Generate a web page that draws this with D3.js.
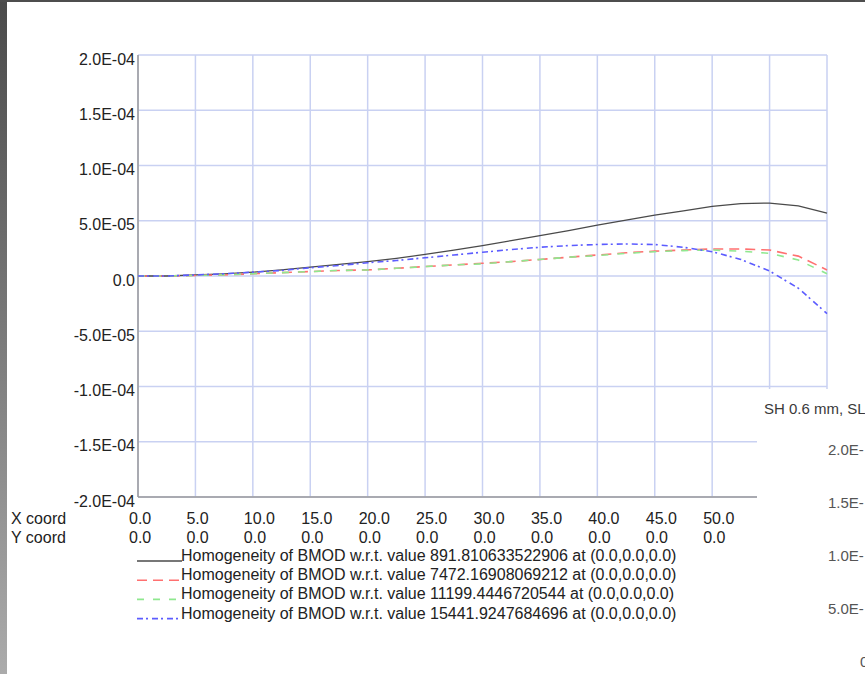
<!DOCTYPE html>
<html>
<head>
<meta charset="utf-8">
<script src="https://cdn.jsdelivr.net/npm/d3@7"></script>
<style>
  html, body { margin: 0; padding: 0; background: #fff; overflow: hidden; }
  text { font-family: "Liberation Sans", Arial, sans-serif; }
</style>
</head>
<body>
<div id="chart"></div>
<script>
// sample positions along the path (X coord), Y coord is always 0
const xCoords = [0, 2.5, 5, 7.5, 10, 12.5, 15, 17.5, 20, 22.5, 25, 27.5, 30,
  32.5, 35, 37.5, 40, 42.5, 45, 47.5, 50, 52.5, 55, 57.5, 60];

// values in units of 1e-5
const series891 = [0, 0, 0.1, 0.2, 0.35, 0.55, 0.8, 1.05, 1.3, 1.6, 1.95, 2.35, 2.75,
  3.2, 3.65, 4.1, 4.6, 5.05, 5.5, 5.9, 6.3, 6.55, 6.6, 6.35, 5.7];
const series7472 = [0, 0, 0.05, 0.1, 0.2, 0.3, 0.4, 0.5, 0.55, 0.7, 0.85, 1.0, 1.15,
  1.3, 1.5, 1.7, 1.9, 2.1, 2.25, 2.35, 2.45, 2.45, 2.35, 1.8, 0.55];
const series11199 = [0, 0, 0.05, 0.1, 0.2, 0.3, 0.4, 0.5, 0.55, 0.7, 0.85, 1.0, 1.1,
  1.3, 1.5, 1.7, 1.85, 2.05, 2.2, 2.3, 2.35, 2.25, 2.05, 1.45, 0.2];
const series15441 = [0, 0, 0.1, 0.2, 0.35, 0.5, 0.75, 0.95, 1.2, 1.4, 1.65, 1.9, 2.15,
  2.4, 2.6, 2.75, 2.85, 2.9, 2.85, 2.6, 2.2, 1.5, 0.45, -1.1, -3.4];

const seriesLabels = [
  'Homogeneity of BMOD w.r.t. value 891.810633522906 at (0.0,0.0,0.0)',
  'Homogeneity of BMOD w.r.t. value 7472.16908069212 at (0.0,0.0,0.0)',
  'Homogeneity of BMOD w.r.t. value 11199.4446720544 at (0.0,0.0,0.0)',
  'Homogeneity of BMOD w.r.t. value 15441.9247684696 at (0.0,0.0,0.0)',
];

const yTicks = [-2e-4, -1.5e-4, -1e-4, -5e-5, 0, 5e-5, 1e-4, 1.5e-4, 2e-4];
const xTickValues = [0, 5, 10, 15, 20, 25, 30, 35, 40, 45, 50];
const xGridValues = [0, 5, 10, 15, 20, 25, 30, 35, 40, 45, 50, 55, 60];

// the window behind, partly shown on the right
const sideTitle = 'SH 0.6 mm, SL';
const sideTicks = ['2.0E-', '1.5E-', '1.0E-', '5.0E-', '0'];

const width = 865;
const height = 674;
const plot = { left: 138, right: 827, top: 55, bottom: 497 };

const svg = d3.select('#chart').append('svg')
  .attr('width', width)
  .attr('height', height);

const x = d3.scaleLinear().domain([0, 60]).range([plot.left, plot.right]);
const y = d3.scaleLinear().domain([-2e-4, 2e-4]).range([plot.bottom, plot.top]);

function sciFormat(v) {
  if (v === 0) return '0.0';
  const [m, e] = v.toExponential(1).split('e');
  const exp = Math.abs(+e);
  return `${m}E${+e < 0 ? '-' : '+'}${exp < 10 ? '0' + exp : exp}`;
}

drawFrame();
drawGrid();
drawSeries();
drawSidePanel();
drawLabels();
drawLegend();

function drawFrame() {
  const defs = svg.append('defs');
  const grad = defs.append('linearGradient')
    .attr('id', 'edge')
    .attr('x1', 0).attr('y1', 0).attr('x2', 0).attr('y2', 1);
  grad.append('stop').attr('offset', '0%').attr('stop-color', '#4a4a4a');
  grad.append('stop').attr('offset', '100%').attr('stop-color', '#ababab');

  svg.append('rect')
    .attr('width', width).attr('height', height)
    .attr('fill', '#fff');
  svg.append('rect')
    .attr('x', 0).attr('y', 0)
    .attr('width', 7).attr('height', height)
    .attr('fill', 'url(#edge)');
  svg.append('rect')
    .attr('x', 0).attr('y', 0)
    .attr('width', width).attr('height', 2)
    .attr('fill', '#4e4e4e');
}

function drawGrid() {
  const grid = svg.append('g').attr('class', 'grid');

  grid.selectAll('line.h')
    .data(yTicks)
    .enter().append('line')
    .attr('class', 'h')
    .attr('x1', plot.left)
    .attr('x2', plot.right)
    .attr('y1', d => y(d))
    .attr('y2', d => y(d))
    .attr('stroke', '#c9d1f2')
    .attr('stroke-width', 1.5);

  grid.selectAll('line.v')
    .data(xGridValues)
    .enter().append('line')
    .attr('class', 'v')
    .attr('x1', d => x(d))
    .attr('x2', d => x(d))
    .attr('y1', plot.top)
    .attr('y2', plot.bottom)
    .attr('stroke', '#c9d1f2')
    .attr('stroke-width', 1.5);

  // axis lines
  grid.append('line')
    .attr('x1', plot.left).attr('x2', plot.left)
    .attr('y1', plot.top).attr('y2', plot.bottom)
    .attr('stroke', '#9a9a9a').attr('stroke-width', 1.5);
  grid.append('line')
    .attr('x1', plot.left).attr('x2', plot.right)
    .attr('y1', plot.bottom).attr('y2', plot.bottom)
    .attr('stroke', '#9a9a9a').attr('stroke-width', 1.5);
}

function drawSeries() {
  const styles = [
    { color: '#4a4a4a', dash: null, width: 1.3 },
    { color: '#ff7070', dash: '10,6', width: 1.6 },
    { color: '#8fe88f', dash: '7,9', width: 1.6 },
    { color: '#5c5cff', dash: '6,3,2,4', width: 1.6 },
  ];
  const all = [series891, series7472, series11199, series15441];

  const line = d3.line()
    .x((d, i) => x(xCoords[i]))
    .y(d => y(d * 1e-5));

  svg.append('g').attr('class', 'series')
    .selectAll('path')
    .data(all)
    .enter().append('path')
    .attr('d', line)
    .attr('fill', 'none')
    .attr('stroke', (d, i) => styles[i].color)
    .attr('stroke-width', (d, i) => styles[i].width)
    .attr('stroke-dasharray', (d, i) => styles[i].dash);

  svg.node().__styles = styles;
}

function drawSidePanel() {
  const panelX = 757;
  const panelY = 389;
  svg.append('rect')
    .attr('x', panelX).attr('y', panelY)
    .attr('width', width - panelX).attr('height', height - panelY)
    .attr('fill', '#fff');

  svg.append('text')
    .attr('x', 764).attr('y', 414)
    .attr('font-size', 15)
    .attr('fill', '#3a3a3a')
    .text(sideTitle);

  svg.selectAll('text.side')
    .data(sideTicks)
    .enter().append('text')
    .attr('class', 'side')
    .attr('x', (d, i) => i === sideTicks.length - 1 ? 860 : 828)
    .attr('y', (d, i) => 455 + i * 53)
    .attr('font-size', 15)
    .attr('fill', '#555')
    .text(d => d);
}

function drawLabels() {
  svg.append('g').attr('class', 'y-labels')
    .selectAll('text')
    .data(yTicks)
    .enter().append('text')
    .attr('x', plot.left - 3)
    .attr('y', d => y(d) + 9.5)
    .attr('text-anchor', 'end')
    .attr('font-size', 16)
    .attr('fill', '#222')
    .text(sciFormat);

  const rows = [
    { name: 'X coord', values: xTickValues.map(v => v.toFixed(1)) },
    { name: 'Y coord', values: xTickValues.map(() => '0.0') },
  ];

  rows.forEach((row, r) => {
    const baseY = 524 + r * 19;
    svg.append('text')
      .attr('x', 11).attr('y', baseY)
      .attr('font-size', 16).attr('fill', '#222')
      .text(row.name);
    svg.append('g').selectAll('text')
      .data(xTickValues)
      .enter().append('text')
      .attr('x', d => x(d) - 9)
      .attr('y', baseY)
      .attr('font-size', 16).attr('fill', '#222')
      .text((d, i) => row.values[i]);
  });
}

function drawLegend() {
  const styles = svg.node().__styles;
  const items = svg.append('g').attr('class', 'legend')
    .selectAll('g')
    .data(seriesLabels)
    .enter().append('g')
    .attr('transform', (d, i) => `translate(0,${561 + i * 19.2})`);

  items.append('line')
    .attr('x1', 137).attr('x2', 182)
    .attr('y1', 0).attr('y2', 0)
    .attr('stroke', (d, i) => styles[i].color)
    .attr('stroke-width', (d, i) => styles[i].width)
    .attr('stroke-dasharray', (d, i) => styles[i].dash);

  items.append('text')
    .attr('x', 181)
    .attr('y', 0)
    .attr('font-size', 16)
    .attr('fill', '#222')
    .text(d => d);
}
</script>
</body>
</html>
